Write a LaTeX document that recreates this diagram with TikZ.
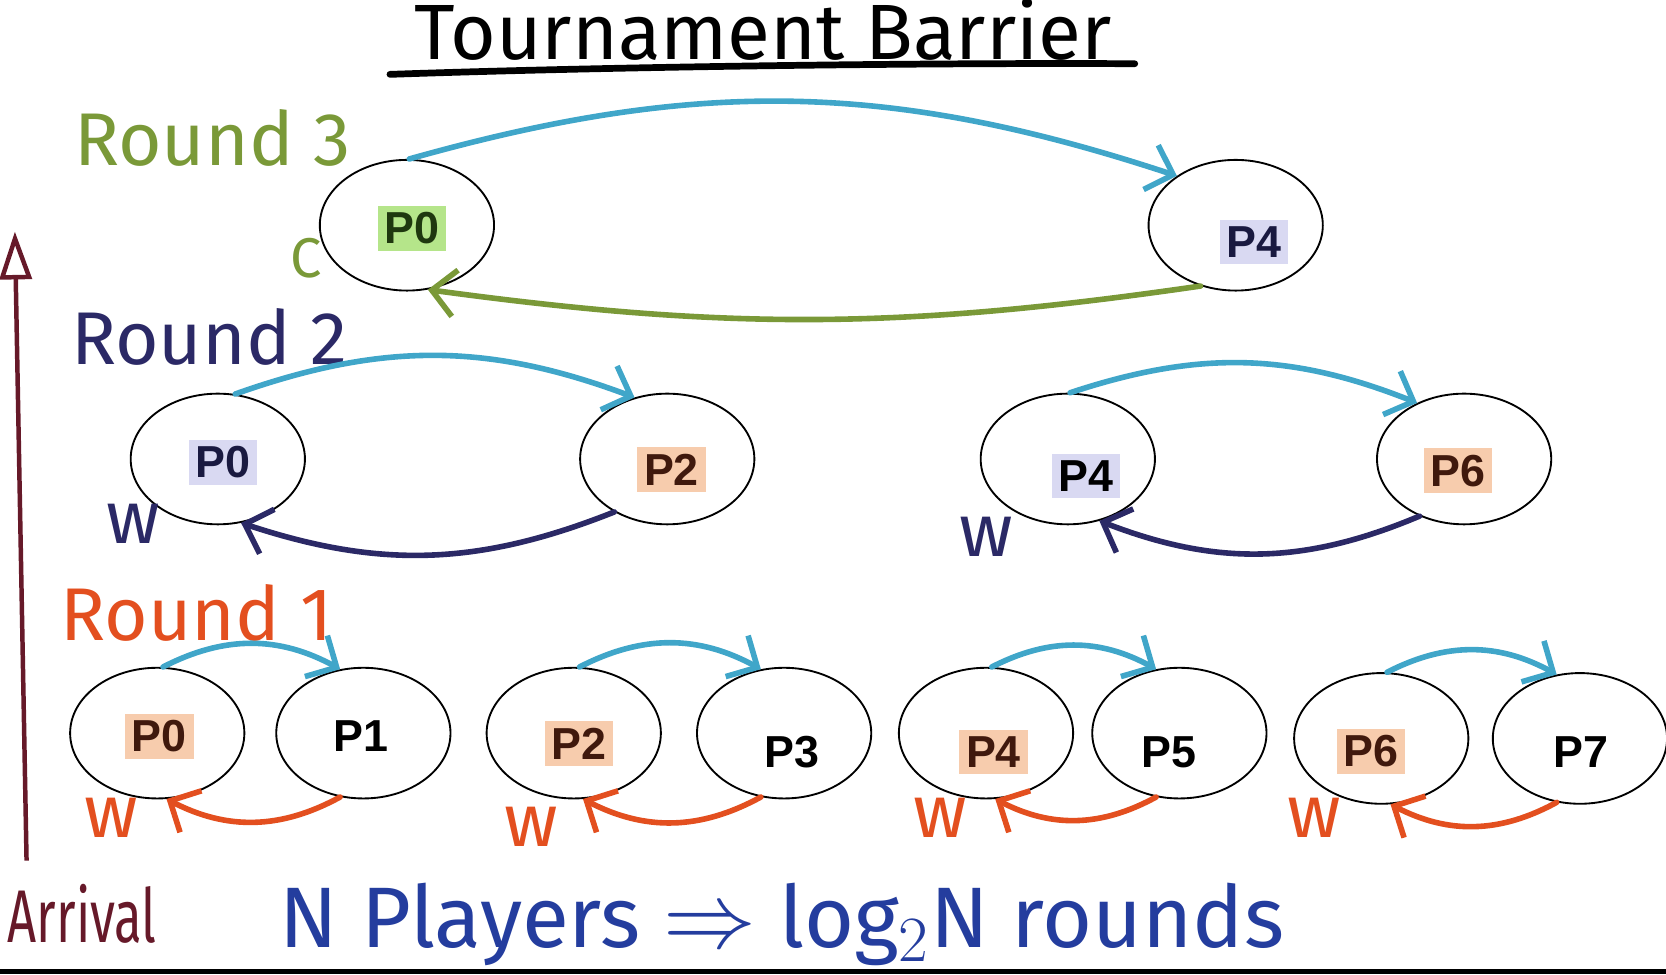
\documentclass[tikz,border=0pt]{standalone}
\usepackage{fontspec}
\setmainfont{Liberation Sans}
\newfontfamily\handfont{Fira Sans}
\usetikzlibrary{arrows.meta,shapes.geometric}
\definecolor{passblue}{rgb}{0.25,0.65,0.79}
\definecolor{roundgreen}{rgb}{0.48,0.60,0.22}
\definecolor{roundnavy}{rgb}{0.17,0.16,0.40}
\definecolor{roundorange}{rgb}{0.89,0.31,0.12}
\definecolor{arrivalred}{rgb}{0.40,0.10,0.16}
\definecolor{inkblue}{rgb}{0.14,0.24,0.62}
\definecolor{pastelgreen}{rgb}{0.71,0.90,0.54}
\definecolor{pastellavender}{rgb}{0.85,0.85,0.95}
\definecolor{pastelpeach}{rgb}{0.97,0.80,0.68}
\definecolor{darkgreen}{rgb}{0.12,0.22,0.06}
\definecolor{darknavy}{rgb}{0.10,0.10,0.25}
\definecolor{darkbrown}{rgb}{0.25,0.10,0.05}
\tikzset{
  player/.style={
    ellipse,
    draw=black,
    line width=0.5pt,
    minimum width=16.4mm,
    minimum height=12.3mm,
    inner sep=0pt
  },
  tag/.style={
    font=\fontsize{12}{12}\selectfont\bfseries,
    inner sep=1.8pt
  },
  hand/.style={
    font=\handfont\fontsize{20}{20}\selectfont
  },
  arrow/.style={
    -{Straight Barb[length=2.2mm,width=4.4mm]},
    line width=1.5pt,
    line cap=round
  }
}
\begin{document}
\begin{tikzpicture}[x=0.1mm,y=0.1mm]
\useasboundingbox (0,0) rectangle (1568,917);
\clip (0,0) rectangle (1568,917);
\fill[black] (0,0) rectangle (1568,5);
% title
\node[font=\handfont\fontsize{21}{21}\selectfont] (title) at (718,889) {Tournament Barrier};
\draw[line width=1.8pt,line cap=round] (367,847) .. controls (600,855) and (900,858) .. (1068,857);
% round 3
\node[hand,text=roundgreen] (r3) at (200,787) {Round 3};
\node[player] (c0) at (383,705) {};
\node[player] (c4) at (1163,705) {};
\node[tag,fill=pastelgreen,text=darkgreen] (c0t) at (388,702) {P0};
\node[tag,fill=pastellavender,text=darknavy] (c4t) at (1180,689) {P4};
\node[hand,text=roundgreen,font=\handfont\fontsize{15}{15}\selectfont] (cc) at (288,674) {C};
\draw[arrow,passblue] (c0.88) to[bend left=17] (c4.140);
\draw[arrow,roundgreen] (c4.240) to[bend left=8] (c0.288);
% round 2
\node[hand,text=roundnavy] (r2) at (197,600) {Round 2};
\node[player] (b0) at (205,485) {};
\node[player] (b2) at (628,485) {};
\node[player] (b4) at (1005,485) {};
\node[player] (b6) at (1378,485) {};
\node[tag,fill=pastellavender,text=darknavy] (b0t) at (210,482) {P0};
\node[tag,fill=pastelpeach,text=darkbrown] (b2t) at (632,475) {P2};
\node[tag,fill=pastellavender,text=black] (b4t) at (1022,469) {P4};
\node[tag,fill=pastelpeach,text=darkbrown] (b6t) at (1372,474) {P6};
\node[hand,text=roundnavy] (bw0) at (125,424) {w};
\node[hand,text=roundnavy] (bw4) at (928,412) {w};
\draw[arrow,passblue] (b0.75) to[bend left=20] (b2.118);
\draw[arrow,roundnavy] (b2.225) to[bend left=20] (b0.290);
\draw[arrow,passblue] (b4.88) to[bend left=20] (b6.130);
\draw[arrow,roundnavy] (b6.232) to[bend left=22] (b4.297);
% round 1
\node[hand,text=roundorange] (r1) at (185,340) {Round 1};
\node[player] (a0) at (148,227) {};
\node[player] (a1) at (342,227) {};
\node[player] (a2) at (540,227) {};
\node[player] (a3) at (738,227) {};
\node[player] (a4) at (928,227) {};
\node[player] (a5) at (1110,227) {};
\node[player] (a6) at (1300,222) {};
\node[player] (a7) at (1487,222) {};
\node[tag,fill=pastelpeach,text=darkbrown] (a0t) at (150,224) {P0};
\node[tag] (a1t) at (340,224) {P1};
\node[tag,fill=pastelpeach,text=darkbrown] (a2t) at (545,217) {P2};
\node[tag] (a3t) at (745,209) {P3};
\node[tag,fill=pastelpeach,text=darkbrown] (a4t) at (935,209) {P4};
\node[tag] (a5t) at (1100,209) {P5};
\node[tag,fill=pastelpeach,text=darkbrown] (a6t) at (1290,210) {P6};
\node[tag] (a7t) at (1488,209) {P7};
\node[hand,text=roundorange] (aw0) at (105,147) {w};
\node[hand,text=roundorange] (aw2) at (500,139) {w};
\node[hand,text=roundorange] (aw4) at (885,147) {w};
\node[hand,text=roundorange] (aw6) at (1237,147) {w};
\draw[arrow,passblue] (a0.85) to[bend left=28] (a1.110);
\draw[arrow,roundorange] (a1.250) to[bend left=28] (a0.278);
\draw[arrow,passblue] (a2.85) to[bend left=28] (a3.110);
\draw[arrow,roundorange] (a3.250) to[bend left=28] (a2.278);
\draw[arrow,passblue] (a4.85) to[bend left=28] (a5.110);
\draw[arrow,roundorange] (a5.250) to[bend left=28] (a4.278);
\draw[arrow,passblue] (a6.85) to[bend left=28] (a7.110);
\draw[arrow,roundorange] (a7.250) to[bend left=28] (a6.278);
% arrival
\coordinate (abot) at (25,107);
\coordinate (atop) at (14,699);
\draw[arrivalred,line width=1.2pt,-{Triangle[open,length=4.5mm,width=3mm]}] (abot) -- (atop);
\node[hand,text=arrivalred,anchor=base east,inner sep=0pt] (arrival) at (148,30) {\scalebox{0.68}[1]{Arrival}};
% bottom line
\node[hand,text=inkblue,font=\handfont\fontsize{23}{23}\selectfont,anchor=base] (rule) at (736,25) {N Players $\Rightarrow$ log$_2$N rounds};
\end{tikzpicture}
\end{document}
